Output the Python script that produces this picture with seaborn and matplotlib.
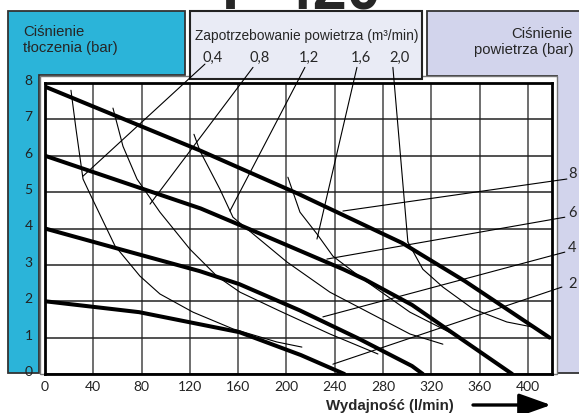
import matplotlib
matplotlib.use("Agg")
import matplotlib.pyplot as plt
import seaborn as sns
import pandas as pd
from matplotlib.patches import Polygon, Rectangle
from matplotlib.transforms import ScaledTranslation

# osie
flow_ticks = list(range(0, 401, 40))
pressure_ticks = list(range(0, 9))

# krzywe wydajności dla ciśnienia powietrza 8, 6, 4, 2 bar
p8_x = [0, 128, 210, 296, 348, 418]
p8_y = [7.9, 6.15, 4.95, 3.6, 2.55, 1.0]
p6_x = [0, 129, 154, 247, 265, 304, 338, 387]
p6_y = [6.0, 4.55, 4.2, 2.88, 2.6, 1.9, 1.12, 0.0]
p4_x = [0, 60, 128, 161, 211, 260, 304, 313]
p4_y = [4.0, 3.45, 2.83, 2.47, 1.75, 0.97, 0.22, 0.0]
p2_x = [0, 78, 161, 212, 248]
p2_y = [2.0, 1.7, 1.15, 0.52, 0.0]
air_pressures = ["8", "6", "4", "2"]

# krzywe zużycia powietrza (m3/min)
q04_x = [21.5, 25.7, 31.5, 37.3, 58.0, 78.7, 95.2, 122.6, 155.7, 192.1, 212.8]
q04_y = [7.80, 6.73, 5.36, 4.95, 3.52, 2.69, 2.20, 1.70, 1.24, 0.88, 0.74]
q08_x = [56.3, 64.6, 76.2, 95.2, 120.1, 142.4, 161.5, 194.6, 236.0, 275.8]
q08_y = [7.31, 6.26, 5.36, 4.45, 3.43, 2.69, 2.25, 1.73, 1.10, 0.55]
q12_x = [123.4, 128.4, 144.9, 155.7, 200.4, 236.0, 302.3, 329.6]
q12_y = [6.59, 6.13, 5.08, 4.31, 3.08, 2.25, 1.10, 0.82]
q16_x = [201.2, 211.2, 225.3, 238.5, 263.4, 302.3, 337.9]
q16_y = [5.41, 4.45, 3.85, 3.24, 2.61, 1.70, 1.10]
q20_x = [300.6, 313.0, 329.6, 354.5, 382.6, 404.1]
q20_y = [3.63, 2.88, 2.39, 1.79, 1.43, 1.29]
air_use = ["0,4", "0,8", "1,2", "1,6", "2,0"]

# linie odniesienia od etykiet (początek -> koniec)
use_lead_x0 = [132.5, 172.3, 215.3, 258.4, 288.2]
use_lead_y0 = [8.52, 8.43, 8.43, 8.43, 8.43]
use_lead_x1 = [31.5, 87.0, 153.2, 225.3, 300.6]
use_lead_y1 = [5.44, 4.67, 4.48, 3.71, 3.63]
pr_lead_x0 = [432.3, 430.6, 430.6, 428.2]
pr_lead_y0 = [5.36, 4.31, 3.35, 2.39]
pr_lead_x1 = [246.8, 233.5, 230.2, 238.5]
pr_lead_y1 = [4.48, 3.16, 1.57, 0.27]

W, H = 579, 414


def fpx(x, y):
    return (x / W, 1 - y / H)


sns.set_theme(style="white")
plt.rcParams["font.family"] = ["Liberation Sans", "DejaVu Sans"]

fig = plt.figure(figsize=(W / 100, H / 100), dpi=100)

# panele w tle
blue = Polygon([fpx(8, 12), fpx(185, 12), fpx(185, 76), fpx(39, 76), fpx(39, 374), fpx(8, 374)],
               closed=True, transform=fig.transFigure, fc="#2bb4d9", ec="#333333", lw=1.3, zorder=-2)
right = Polygon([fpx(427, 12), fpx(585, 12), fpx(585, 374), fpx(557, 374), fpx(557, 77), fpx(427, 77)],
                closed=True, transform=fig.transFigure, fc="#d2d4ec", ec="#333333", lw=1.3, zorder=-2)
mid = Rectangle(fpx(190, 80), (422 - 190) / W, (80 - 12) / H, transform=fig.transFigure,
                fc="#e9ebf5", ec="#222222", lw=1.5, zorder=-1)
white = Rectangle(fpx(40, 375), (557 - 40) / W, (375 - 77) / H, transform=fig.transFigure,
                  fc="white", ec="#777777", lw=1.0, zorder=-1.5)
for p in (blue, right, white, mid):
    fig.add_artist(p)

ax = fig.add_axes([45 / W, 1 - 375 / H, (552 - 45) / W, (375 - 84) / H])
ax.set_facecolor("white")

for xs, ys in [(p8_x, p8_y), (p6_x, p6_y), (p4_x, p4_y), (p2_x, p2_y)]:
    sns.lineplot(x=xs, y=ys, ax=ax, color="black", lw=2.9, sort=False, estimator=None)
for xs, ys in [(q04_x, q04_y), (q08_x, q08_y), (q12_x, q12_y), (q16_x, q16_y), (q20_x, q20_y)]:
    sns.lineplot(x=xs, y=ys, ax=ax, color="black", lw=0.8, sort=False, estimator=None)

for x0, y0, x1, y1 in zip(use_lead_x0, use_lead_y0, use_lead_x1, use_lead_y1):
    ax.plot([x0, x1], [y0, y1], color="black", lw=0.8, clip_on=False)
for x0, y0, x1, y1 in zip(pr_lead_x0, pr_lead_y0, pr_lead_x1, pr_lead_y1):
    ax.plot([x0, x1], [y0, y1], color="black", lw=0.8, clip_on=False)

ax.set_xlim(0, 420)
ax.set_ylim(0, 8)
ax.set_xticks(flow_ticks)
ax.set_yticks(pressure_ticks)
ax.set_xticklabels([str(t) for t in flow_ticks], fontfamily="Lato", fontsize=10, color="#222222")
ax.set_yticklabels([str(t) for t in pressure_ticks], fontfamily="Lato", fontsize=10, color="#222222")
ax.tick_params(axis="both", length=0)
ax.tick_params(axis="x", pad=4)
ax.tick_params(axis="y", pad=9)
for lbl in ax.get_yticklabels():
    lbl.set_transform(lbl.get_transform() + ScaledTranslation(0, 0.04, fig.dpi_scale_trans))
ax.xaxis.grid(True, color="#555555", lw=1.2)
ax.yaxis.grid(True, color="#222222", lw=1.1)
ax.set_axisbelow(True)
for s in ax.spines.values():
    s.set_color("black")
    s.set_linewidth(2.0)
ax.set_xlabel("")
ax.set_ylabel("")

# etykiety zużycia powietrza i ciśnienia
use_lab_x = [139, 178, 219, 262, 294]
for lab, x in zip(air_use, use_lab_x):
    ax.text(x, 8.71, lab, ha="center", va="center", fontsize=10.5, fontfamily="Lato", clip_on=False)
pr_lab_y = [5.52, 4.45, 3.49, 2.5]
for lab, y in zip(air_pressures, pr_lab_y):
    ax.text(437, y, lab, ha="center", va="center", fontsize=10.5, fontfamily="Lato", clip_on=False)

fig.text(*fpx(23, 40), "Ciśnienie\ntłoczenia (bar)", ha="left", va="center", fontsize=10.7, linespacing=1.1)
fig.text(*fpx(573, 42), "Ciśnienie\npowietrza (bar)", ha="right", va="center", fontsize=10.7,
         linespacing=1.1, multialignment="right")
fig.text(*fpx(307, 36), "Zapotrzebowanie powietrza (m³/min)", ha="center", va="center", fontsize=9.9)
fig.text(*fpx(390, 406), "Wydajność (l/min)", ha="center", va="center", fontsize=10.8, fontweight="bold")
fig.text(*fpx(301, 10), "P 420", ha="center", va="baseline", fontsize=44, fontweight="bold")

ax.annotate("", xy=fpx(551, 406), xytext=fpx(473, 406), xycoords="figure fraction",
            textcoords="figure fraction",
            arrowprops=dict(arrowstyle="-|>,head_length=1.4,head_width=0.5", color="black", lw=2.4,
                            shrinkA=0, shrinkB=0, mutation_scale=14))

fig.savefig("out.png", dpi=100)
